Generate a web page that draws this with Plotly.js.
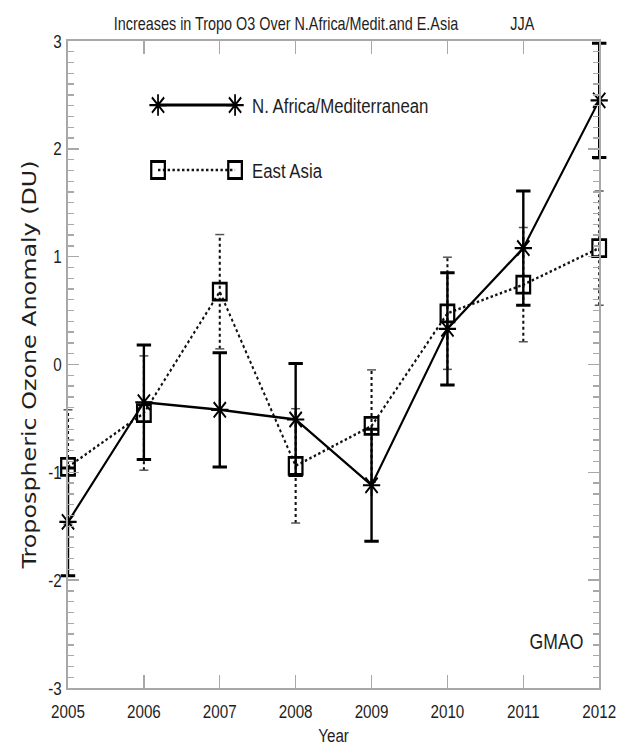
<!DOCTYPE html>
<html>
<head>
<meta charset="utf-8">
<script src="https://cdn.plot.ly/plotly-3.0.1.min.js"></script>
<style>
html,body{margin:0;padding:0;background:#fff;overflow:hidden;}
#wrap{width:633px;height:753px;overflow:hidden;}
#chart{width:791px;height:753px;transform:scaleX(0.8);transform-origin:0 0;}
</style>
</head>
<body>
<div id="wrap"><div id="chart"></div></div>
<script>
// Data
var years = [2005, 2006, 2007, 2008, 2009, 2010, 2011, 2012];
var nafrica = [-1.46, -0.35, -0.42, -0.51, -1.12, 0.33, 1.08, 2.45];
var nafricaErr = [0.50, 0.53, 0.53, 0.52, 0.52, 0.52, 0.53, 0.53];
var eastasia = [-0.95, -0.45, 0.675, -0.94, -0.57, 0.475, 0.74, 1.08];
var eastasiaErr = [0.53, 0.53, 0.53, 0.53, 0.52, 0.52, 0.53, 0.53];
var yTicks = [-3, -2, -1, 0, 1, 2, 3];
var seriesNames = ["N. Africa/Mediterranean", "East Asia"];

var FONT = "'Liberation Sans', Arial, Helvetica, sans-serif";
var YFONT = "'DejaVu Sans', 'Liberation Sans', Arial, sans-serif";
var AXC = "#a8a8a8";
var TXT = "#1e1e1e";

// dotted error bars for East Asia, built from the data arrays
var eaErrX = [], eaErrY = [], eaCapX = [], eaCapY = [];
years.forEach(function (yr, i) {
  eaErrX.push(yr, yr, null);
  eaErrY.push(eastasia[i] - eastasiaErr[i], eastasia[i] + eastasiaErr[i], null);
  eaCapX.push(yr, yr);
  eaCapY.push(eastasia[i] - eastasiaErr[i], eastasia[i] + eastasiaErr[i]);
});

var traces = [
  {
    x: eaErrX, y: eaErrY, mode: 'lines', type: 'scatter', showlegend: false,
    line: {color: '#111', width: 2.6, dash: 'dot'}, cliponaxis: false, hoverinfo: 'skip'
  },
  {
    x: eaCapX, y: eaCapY, mode: 'markers', type: 'scatter', showlegend: false,
    marker: {symbol: 'line-ew', size: 8, line: {color: '#555', width: 1.5}}, cliponaxis: false
  },
  {
    x: years, y: eastasia, name: seriesNames[1], mode: 'lines+markers', type: 'scatter',
    showlegend: false, cliponaxis: false,
    line: {color: '#111', width: 2.5, dash: 'dot'},
    marker: {symbol: 'square-open', size: 17, color: '#000', line: {color: '#000', width: 2.8}}
  },
  {
    x: years, y: nafrica, name: seriesNames[0], mode: 'lines+markers', type: 'scatter',
    showlegend: false, cliponaxis: false,
    line: {color: '#000', width: 2.5},
    marker: {symbol: 'asterisk-open', size: 18, color: '#000', line: {color: '#000', width: 2.2}},
    error_y: {type: 'data', array: nafricaErr, visible: true, color: '#000', thickness: 3, width: 9}
  },
  // in-plot legend samples (decoration, placed in a 0..1 overlay frame)
  {
    x: [0.1695, 0.3145], y: [0.901, 0.901], xaxis: 'x2', yaxis: 'y2', mode: 'lines+markers',
    showlegend: false, cliponaxis: false, hoverinfo: 'skip',
    line: {color: '#000', width: 3},
    marker: {symbol: 'asterisk-open', size: 18, color: '#000', line: {color: '#000', width: 2.2}}
  },
  {
    x: [0.1695, 0.3145], y: [0.8006, 0.8006], xaxis: 'x2', yaxis: 'y2', mode: 'lines+markers',
    showlegend: false, cliponaxis: false, hoverinfo: 'skip',
    line: {color: '#111', width: 2.5, dash: 'dot'},
    marker: {symbol: 'square-open', size: 17, color: '#000', line: {color: '#000', width: 2.8}}
  }
];

var sp = '&nbsp;';
var layout = {
  width: 791, height: 753,
  margin: {l: 85, r: 42, t: 41, b: 65, pad: 0},
  paper_bgcolor: '#fff', plot_bgcolor: '#fff',
  showlegend: false,
  font: {family: FONT, color: TXT, size: 19},
  title: {
    text: 'Increases in Tropo O3 Over N.Africa/Medit.and E.Asia' + sp.repeat(13) + 'JJA',
    font: {family: FONT, size: 18, color: TXT},
    x: 0.482, xanchor: 'center', xref: 'paper', y: 0.969, yanchor: 'middle'
  },
  xaxis: {
    range: [2005, 2012], tickvals: years, ticktext: years.map(String),
    showgrid: false, zeroline: false, showline: true, linecolor: AXC, linewidth: 1.6,
    mirror: 'ticks', ticks: 'inside', ticklen: 13, tickcolor: AXC, tickwidth: 1.8,
    ticklabelstandoff: 6,
    tickfont: {family: FONT, size: 19, color: TXT},
    title: {text: 'Year', font: {family: FONT, size: 19, color: TXT}, standoff: 7}
  },
  yaxis: {
    range: [-3, 3], tickvals: yTicks, ticktext: yTicks.map(String),
    showgrid: false, zeroline: false, showline: true, linecolor: AXC, linewidth: 2,
    mirror: 'ticks', ticks: 'inside', ticklen: 14, tickcolor: AXC, tickwidth: 1.5,
    ticklabelstandoff: 2,
    tickfont: {family: FONT, size: 19, color: TXT},
    minor: {dtick: 0.1, ticks: 'inside', ticklen: 8, tickcolor: AXC, tickwidth: 1.3, showgrid: false},
    title: {text: 'Tropospheric Ozone Anomaly (DU)', font: {family: YFONT, size: 23.8, color: TXT}, standoff: 8}
  },
  xaxis2: {overlaying: 'x', range: [0, 1], visible: false, fixedrange: true},
  yaxis2: {overlaying: 'y', range: [0, 1], visible: false, fixedrange: true},
  annotations: [
    {xref: 'paper', yref: 'paper', x: 0.3427, y: 0.901, xanchor: 'left', yanchor: 'middle',
     text: seriesNames[0], showarrow: false, font: {family: FONT, size: 21, color: TXT}},
    {xref: 'paper', yref: 'paper', x: 0.3427, y: 0.8006, xanchor: 'left', yanchor: 'middle',
     text: seriesNames[1], showarrow: false, font: {family: FONT, size: 21, color: TXT}},
    {xref: 'paper', yref: 'paper', x: 0.919, y: 0.0726, xanchor: 'center', yanchor: 'middle',
     text: 'GMAO', showarrow: false, font: {family: FONT, size: 22, color: TXT}}
  ]
};

Plotly.newPlot('chart', traces, layout, {displayModeBar: false, staticPlot: true}).then(function (gd) {
  // let the edge error bars draw in full (as in the reference)
  gd.querySelectorAll('.cartesianlayer [clip-path]').forEach(function (el) {
    el.removeAttribute('clip-path');
  });
});
</script>
</body>
</html>
